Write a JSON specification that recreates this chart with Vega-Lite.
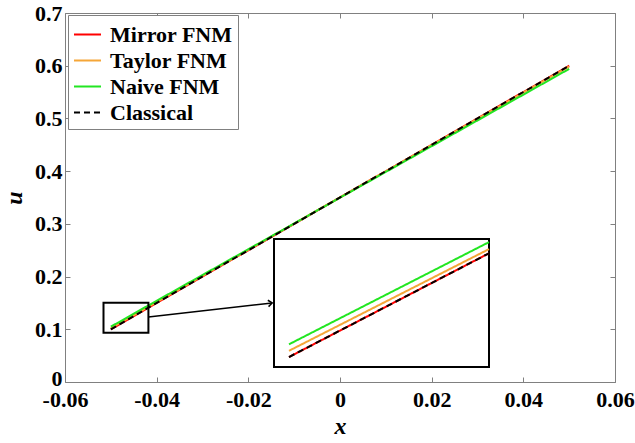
{
  "$schema": "https://vega.github.io/schema/vega-lite/v6.json",
  "width": 550,
  "height": 369,
  "autosize": {"type": "none"},
  "padding": {"left": 65, "top": 13, "right": 20, "bottom": 61},
  "background": "white",
  "config": {
    "view": {"stroke": null},
    "font": "Times New Roman, Liberation Serif, serif",
    "axis": {
      "labelFont": "Times New Roman, Liberation Serif, serif", "labelFontSize": 22, "labelFontWeight": "bold", "labelColor": "black", "labelFlush": false,
      "titleFont": "Times New Roman, Liberation Serif, serif", "titleFontSize": 24, "titleFontWeight": "bold", "titleFontStyle": "italic", "titleColor": "black",
      "domainColor": "#808080", "tickColor": "#808080", "tickSize": -5, "grid": false, "domainWidth": 1, "tickWidth": 1
    },
    "legend": {
      "orient": "none", "legendX": 3, "legendY": 2, "padding": 5,
      "strokeColor": "#808080", "fillColor": "white",
      "labelFont": "Times New Roman, Liberation Serif, serif", "labelFontSize": 22, "labelFontWeight": "bold", "labelColor": "black",
      "symbolType": "stroke", "symbolSize": 729, "symbolStrokeWidth": 2, "labelOffset": 8, "rowPadding": -2
    }
  },
  "datasets": {
    "lines": [
      {"method": "Mirror FNM", "x": -0.05, "u": 0.1},
      {"method": "Mirror FNM", "x": -0.042, "u": 0.14},
      {"method": "Mirror FNM", "x": 0.05, "u": 0.6},
      {"method": "Taylor FNM", "x": -0.05, "u": 0.1024},
      {"method": "Taylor FNM", "x": -0.042, "u": 0.1416},
      {"method": "Taylor FNM", "x": 0.05, "u": 0.5985},
      {"method": "Naive FNM", "x": -0.05, "u": 0.1049},
      {"method": "Naive FNM", "x": -0.042, "u": 0.1443},
      {"method": "Naive FNM", "x": 0.05, "u": 0.594},
      {"method": "Classical", "x": -0.05, "u": 0.1},
      {"method": "Classical", "x": -0.042, "u": 0.14},
      {"method": "Classical", "x": 0.05, "u": 0.6}
    ],
    "zoombox": [{"x1": -0.0516, "x2": -0.0418, "u1": 0.0935, "u2": 0.1504}],
    "insetbox": [{"x1": -0.0506, "x2": -0.042, "u1": 0.09615, "u2": 0.1455}],
    "arrow": [{"x1": -0.0418, "u1": 0.1233, "x2": -0.0148, "u2": 0.1499}]
  },
  "layer": [
    {
      "data": {"name": "lines"},
      "mark": {"type": "line", "strokeWidth": 2},
      "encoding": {
        "x": {"field": "x", "type": "quantitative",
          "scale": {"domain": [-0.06, 0.06], "nice": false, "zero": false},
          "axis": {"orient": "bottom", "values": [-0.06, -0.04, -0.02, 0, 0.02, 0.04, 0.06],
            "labelExpr": "(datum.value < 0 ? '-' : '') + format(abs(datum.value), '~g')",
            "labelPadding": 12, "title": "x", "titlePadding": 4}},
        "y": {"field": "u", "type": "quantitative",
          "scale": {"domain": [0, 0.7], "nice": false, "zero": false},
          "axis": {"orient": "left", "values": [0, 0.1, 0.2, 0.3, 0.4, 0.5, 0.6, 0.7],
            "labelExpr": "format(datum.value, '~g')", "labelPadding": 8,
            "labelOffset": {"condition": {"test": "datum.value == 0", "value": -4}, "value": 0},
            "title": "u", "titlePadding": 8}},
        "color": {"field": "method", "type": "nominal",
          "scale": {"domain": ["Mirror FNM", "Taylor FNM", "Naive FNM", "Classical"],
            "range": ["#FF0000", "#F5A638", "#22E622", "#000000"]},
          "legend": {"title": null}},
        "strokeDash": {"field": "method", "type": "nominal",
          "scale": {"domain": ["Mirror FNM", "Taylor FNM", "Naive FNM", "Classical"],
            "range": [[1, 0], [1, 0], [1, 0], [6, 4]]},
          "legend": {"title": null}}
      }
    },
    {
      "data": {"name": "lines"},
      "mark": {"type": "point", "opacity": 0},
      "encoding": {
        "x": {"field": "x", "type": "quantitative",
          "scale": {"domain": [-0.06, 0.06], "nice": false, "zero": false},
          "axis": {"orient": "top", "values": [-0.06, -0.04, -0.02, 0, 0.02, 0.04, 0.06], "labels": false, "title": null}},
        "y": {"field": "u", "type": "quantitative",
          "scale": {"domain": [0, 0.7], "nice": false, "zero": false},
          "axis": {"orient": "right", "values": [0, 0.1, 0.2, 0.3, 0.4, 0.5, 0.6, 0.7], "labels": false, "title": null}}
      }
    },
    {
      "data": {"name": "zoombox"},
      "mark": {"type": "rect", "filled": false, "stroke": "black", "strokeWidth": 2},
      "encoding": {
        "x": {"field": "x1", "type": "quantitative", "scale": {"domain": [-0.06, 0.06], "nice": false, "zero": false}, "axis": null},
        "x2": {"field": "x2"},
        "y": {"field": "u1", "type": "quantitative", "scale": {"domain": [0, 0.7], "nice": false, "zero": false}, "axis": null},
        "y2": {"field": "u2"}
      }
    },
    {
      "data": {"name": "arrow"},
      "mark": {"type": "rule", "stroke": "black", "strokeWidth": 1.5},
      "encoding": {
        "x": {"field": "x1", "type": "quantitative", "scale": {"domain": [-0.06, 0.06], "nice": false, "zero": false}, "axis": null},
        "x2": {"field": "x2"},
        "y": {"field": "u1", "type": "quantitative", "scale": {"domain": [0, 0.7], "nice": false, "zero": false}, "axis": null},
        "y2": {"field": "u2"}
      }
    },
    {
      "data": {"name": "arrow"},
      "mark": {"type": "point", "shape": "M-1,-0.8L0,0L-1,0.8", "filled": false, "stroke": "black", "strokeWidth": 1.5, "size": 64, "angle": 353.6, "opacity": 1},
      "encoding": {
        "x": {"field": "x2", "type": "quantitative", "scale": {"domain": [-0.06, 0.06], "nice": false, "zero": false}, "axis": null},
        "y": {"field": "u2", "type": "quantitative", "scale": {"domain": [0, 0.7], "nice": false, "zero": false}, "axis": null}
      }
    },
    {
      "data": {"name": "insetbox"},
      "mark": {"type": "rect", "fill": "white", "stroke": "black", "strokeWidth": 2},
      "encoding": {
        "x": {"field": "x1", "type": "quantitative", "scale": {"domain": [-0.0506, -0.042], "range": [209, 424], "nice": false, "zero": false}, "axis": null},
        "x2": {"field": "x2"},
        "y": {"field": "u1", "type": "quantitative", "scale": {"domain": [0.09615, 0.1455], "range": [354, 226], "nice": false, "zero": false}, "axis": null},
        "y2": {"field": "u2"}
      }
    },
    {
      "data": {"name": "lines"},
      "transform": [{"filter": "datum.x <= -0.0419"}],
      "mark": {"type": "line", "strokeWidth": 2},
      "encoding": {
        "x": {"field": "x", "type": "quantitative", "scale": {"domain": [-0.0506, -0.042], "range": [209, 424], "nice": false, "zero": false}, "axis": null},
        "y": {"field": "u", "type": "quantitative", "scale": {"domain": [0.09615, 0.1455], "range": [354, 226], "nice": false, "zero": false}, "axis": null},
        "color": {"field": "method", "type": "nominal",
          "scale": {"domain": ["Mirror FNM", "Taylor FNM", "Naive FNM", "Classical"],
            "range": ["#FF0000", "#F5A638", "#22E622", "#000000"]},
          "legend": null},
        "strokeDash": {"field": "method", "type": "nominal",
          "scale": {"domain": ["Mirror FNM", "Taylor FNM", "Naive FNM", "Classical"],
            "range": [[1, 0], [1, 0], [1, 0], [6, 4]]},
          "legend": null}
      }
    }
  ],
  "resolve": {"scale": {"x": "independent", "y": "independent"}}
}
